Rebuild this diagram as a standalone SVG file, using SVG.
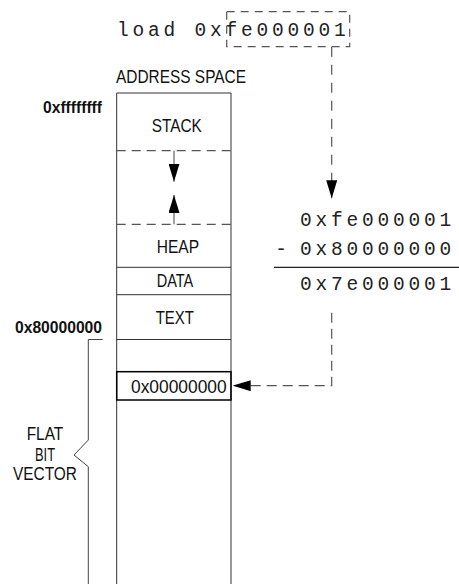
<svg xmlns="http://www.w3.org/2000/svg" width="459" height="584" viewBox="0 0 459 584">
<style>
.sans{font-family:"Liberation Sans",Arial,sans-serif;fill:#111;}
.lbl{font-size:17.5px;}
.bold{font-size:16px;font-weight:bold;}
.mono{font-family:"Liberation Mono","Courier New",monospace;font-size:19.5px;fill:#222;letter-spacing:3.8px;}
.box{fill:none;stroke:#333;stroke-width:1;}
.dash{fill:none;stroke:#555;stroke-width:1.2;stroke-dasharray:9 6;}
.solid{fill:none;stroke:#444;stroke-width:1;}
</style>
<defs>
<marker id="ah" markerUnits="userSpaceOnUse" markerWidth="18" markerHeight="11" refX="18" refY="5.5" orient="auto" viewBox="0 0 18 11">
<path d="M0,0 L18,5.5 L0,11 Z" fill="#000"/>
</marker>
</defs>
<rect width="459" height="584" fill="#fff"/>

<g id="instruction">
<text class="mono" x="117" y="36">load 0xfe000001</text>
<rect class="dash" x="226.7" y="11.7" width="123" height="35" style="stroke-dasharray:8 6"/>
</g>

<g id="title">
<text class="sans lbl" x="116" y="83" textLength="130" lengthAdjust="spacingAndGlyphs">ADDRESS SPACE</text>
</g>

<g id="address-space">
<path class="box" d="M116.7,590 V93 H231 V590"/>
<line class="dash" x1="116.7" y1="150.7" x2="231" y2="150.7"/>
<line class="dash" x1="116.7" y1="224.3" x2="231" y2="224.3"/>
<line class="box" x1="116.7" y1="267.3" x2="231" y2="267.3"/>
<line class="box" x1="116.7" y1="294.7" x2="231" y2="294.7"/>
<line class="box" x1="116.7" y1="339.5" x2="231" y2="339.5"/>
</g>

<g id="stack">
<text class="sans lbl" x="151.7" y="131.7" textLength="50" lengthAdjust="spacingAndGlyphs">STACK</text>
</g>
<g id="heap">
<text class="sans lbl" x="156.7" y="253.3" textLength="42.3" lengthAdjust="spacingAndGlyphs">HEAP</text>
</g>
<g id="data">
<text class="sans lbl" x="156.7" y="286.7" textLength="36.6" lengthAdjust="spacingAndGlyphs">DATA</text>
</g>
<g id="text-seg">
<text class="sans lbl" x="155.7" y="324.3" textLength="38.3" lengthAdjust="spacingAndGlyphs">TEXT</text>
</g>
<g id="zero-entry">
<rect x="116.7" y="371.7" width="114.3" height="28.3" fill="none" stroke="#000" stroke-width="1.5"/>
<text class="sans lbl" x="131" y="392.7" textLength="95.7" lengthAdjust="spacingAndGlyphs">0x00000000</text>
</g>

<g id="addr-labels">
<text class="sans bold" x="43" y="113.3" textLength="59" lengthAdjust="spacingAndGlyphs">0xffffffff</text>
<text class="sans bold" x="15" y="333.3" textLength="87" lengthAdjust="spacingAndGlyphs">0x80000000</text>
</g>

<g id="flat-bit-vector">
<path class="solid" d="M102.7,339.5 H88.3 V440 L74,455 L88.3,466.7 V590"/>
<text class="sans lbl" x="45" y="440" text-anchor="middle" textLength="36.6" lengthAdjust="spacingAndGlyphs">FLAT</text>
<text class="sans lbl" x="45" y="460.7" text-anchor="middle" textLength="20" lengthAdjust="spacingAndGlyphs">BIT</text>
<text class="sans lbl" x="45" y="480" text-anchor="middle" textLength="64" lengthAdjust="spacingAndGlyphs">VECTOR</text>
</g>

<g id="arithmetic">
<text class="mono" x="300" y="226">0xfe000001</text>
<text class="mono" x="281" y="255" text-anchor="middle" style="letter-spacing:0">-</text>
<text class="mono" x="300" y="255">0x80000000</text>
<line x1="274" y1="267.3" x2="459" y2="267.3" stroke="#222" stroke-width="1.3"/>
<text class="mono" x="300" y="290">0x7e000001</text>
</g>

<g id="connectors">
<line class="solid" x1="174" y1="150.7" x2="174" y2="181.7" stroke="#000" marker-end="url(#ah)"/>
<line class="solid" x1="174" y1="224.3" x2="174" y2="195" stroke="#000" marker-end="url(#ah)"/>
<path class="dash" d="M331.7,46.7 V198.3" style="stroke-dasharray:10 8" marker-end="url(#ah)"/>
<path class="dash" d="M331.7,312.7 V385.7 H232.7" style="stroke-dasharray:10 6" marker-end="url(#ah)"/>
</g>
</svg>
